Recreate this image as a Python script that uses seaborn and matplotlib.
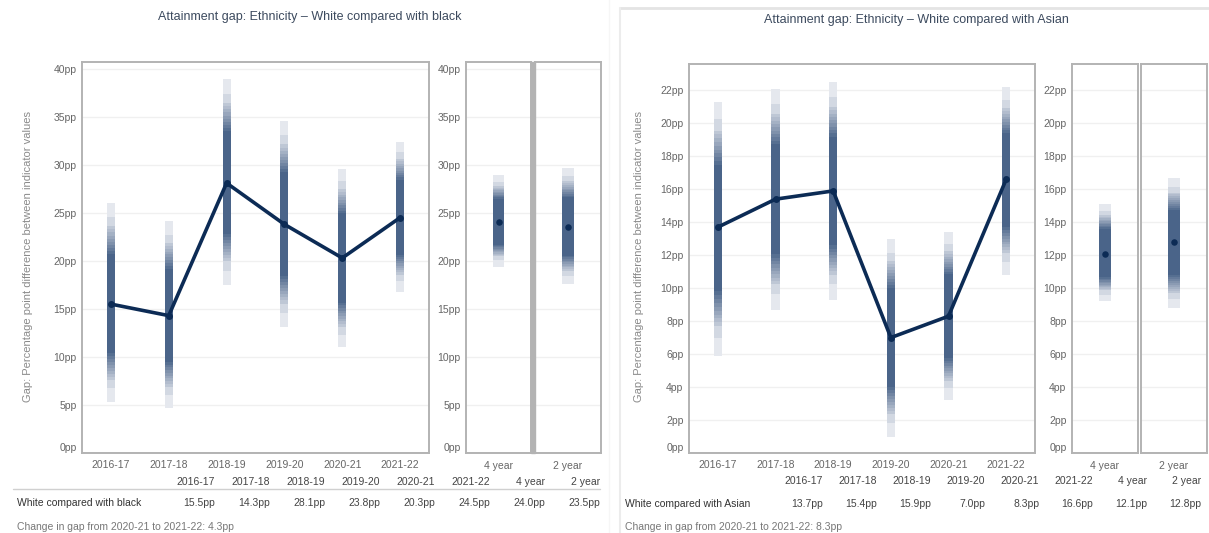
import numpy as np
import matplotlib
matplotlib.use("Agg")
import matplotlib.pyplot as plt
import matplotlib.colors as mcolors
from matplotlib.patches import Rectangle
from matplotlib.lines import Line2D
import seaborn as sns

# Data
years = ["2016-17", "2017-18", "2018-19", "2019-20", "2020-21", "2021-22"]
avg_labels = ["4 year", "2 year"]

black_gap = [15.5, 14.3, 28.1, 23.8, 20.3, 24.5]
black_lo = [5.3, 4.7, 17.5, 13.1, 11.0, 16.8]
black_hi = [26.0, 24.1, 38.9, 34.6, 29.6, 32.4]
black_avg = [24.0, 23.5]
black_avg_lo = [19.4, 17.6]
black_avg_hi = [28.9, 29.7]

asian_gap = [13.7, 15.4, 15.9, 7.0, 8.3, 16.6]
asian_lo = [5.9, 8.7, 9.3, 1.0, 3.2, 10.8]
asian_hi = [21.3, 22.1, 22.5, 13.0, 13.4, 22.2]
asian_avg = [12.1, 12.8]
asian_avg_lo = [9.2, 8.8]
asian_avg_hi = [15.1, 16.7]

W, H = 1209, 533
PALE = "#e5e8ee"
DARK = "#4a6489"
LINE = "#0c2b55"
GREY = "#b3b3b3"
TICK = "#666666"

# gradient levels: fraction of the interval, shade between pale and dark
levels = [1.0, 0.86, 0.77, 0.74, 0.71, 0.68, 0.65, 0.62, 0.59, 0.56, 0.53, 0.50]
shades = [0.0, 0.12, 0.25, 0.33, 0.42, 0.5, 0.58, 0.66, 0.75, 0.83, 0.92, 1.0]

sns.set_theme(style="white")
plt.rcParams["font.family"] = ["Liberation Sans", "DejaVu Sans"]

fig = plt.figure(figsize=(W / 100, H / 100), dpi=100)
fig.patch.set_facecolor("white")


def box(l, t, r, b):
    return [l / W, 1 - b / H, (r - l) / W, (b - t) / H]


def blend(t):
    a = np.array(mcolors.to_rgb(PALE))
    b = np.array(mcolors.to_rgb(DARK))
    return a + (b - a) * t


def draw_band(ax, xs, vals, lo, hi, width):
    for f, t in zip(levels, shades):
        bottoms = [v - f * (v - l) for v, l in zip(vals, lo)]
        tops = [v + f * (h - v) for v, h in zip(vals, hi)]
        ax.bar(xs, np.subtract(tops, bottoms), bottom=bottoms, width=width,
               color=blend(t), linewidth=0, zorder=2)


def style_axes(ax, ylim, yticks, show_labels=True):
    ax.set_ylim(*ylim)
    ax.set_yticks(yticks)
    if show_labels:
        ax.set_yticklabels([f"{v}pp" for v in yticks])
        lab0 = ax.get_yticklabels()[0]
        lab0.set_va("bottom")
    else:
        ax.set_yticklabels([])
    ax.tick_params(axis="y", length=3 if show_labels else 0, width=0.8,
                   color=GREY, labelsize=7.5, labelcolor=TICK, pad=1)
    ax.grid(axis="y", color="#f0f0f0", linewidth=1)
    ax.set_axisbelow(True)
    for s in ax.spines.values():
        s.set_color(GREY)
        s.set_linewidth(1.4)


def panel(cfg):
    gap, lo, hi = cfg["gap"], cfg["lo"], cfg["hi"]
    ax = fig.add_axes(box(*cfg["main"]))
    xs = np.arange(len(years))
    draw_band(ax, xs, gap, lo, hi, 0.14)
    sns.lineplot(x=xs, y=gap, ax=ax, color=LINE, linewidth=2.6, marker="o",
                 markersize=5, markeredgewidth=0, zorder=4)
    ax.set_xlim(-0.5, len(years) - 0.5)
    style_axes(ax, cfg["ylim"], cfg["yticks"])
    ax.set_xticks(xs)
    ax.set_xticklabels(years)
    ax.set_xticks(xs[:-1] + 0.5, minor=True)
    ax.tick_params(axis="x", which="major", length=0, labelsize=7.5,
                   labelcolor=TICK, pad=5)
    ax.tick_params(axis="x", which="minor", length=4, color=GREY, width=0.8)
    ax.set_ylabel("")

    for i, rect in enumerate(cfg["avg"]):
        a = fig.add_axes(box(*rect))
        draw_band(a, [0], [cfg["avg_v"][i]], [cfg["avg_lo"][i]],
                  [cfg["avg_hi"][i]], 0.17)
        sns.scatterplot(x=[0], y=[cfg["avg_v"][i]], ax=a, color=LINE, s=22,
                        linewidth=0, zorder=4)
        a.set_xlim(-0.5, 0.5)
        style_axes(a, cfg["ylim"], cfg["yticks"], show_labels=(i == 0))
        a.set_xticks([0])
        a.set_xticklabels([avg_labels[i]])
        a.tick_params(axis="x", length=0, labelsize=7.5, labelcolor=TICK, pad=6)

    tx, ty = cfg["title_xy"]
    fig.text(tx / W, 1 - ty / H, cfg["title"], ha="center", va="center",
             fontsize=9, color="#3c4a5e")
    fig.text(cfg["ylabel_x"] / W, 1 - 257 / H,
             "Gap: Percentage point difference between indicator values",
             rotation=90, ha="center", va="center", fontsize=8, color="#8a8a8a")

    # summary table
    cols = years + avg_labels
    vals = list(gap) + list(cfg["avg_v"])
    for i, (c, v) in enumerate(zip(cols, vals)):
        xr = (cfg["tab_x0"] + cfg["tab_dx"] * i) / W
        fig.text(xr, 1 - cfg["head_y"] / H, c, ha="right", va="center",
                 fontsize=7.5, color="#444444")
        fig.text(xr, 1 - cfg["row_y"] / H, f"{v:.1f}pp", ha="right",
                 va="center", fontsize=7.5, color="#444444")
    fig.text(cfg["lab_x"] / W, 1 - cfg["row_y"] / H, cfg["row_label"],
             ha="left", va="center", fontsize=7.5, color="#333333")
    fig.text(cfg["lab_x"] / W, 1 - 527 / H, cfg["footnote"], ha="left",
             va="center", fontsize=7.5, color="#777777")


left = dict(
    title="Attainment gap: Ethnicity \u2013 White compared with black",
    title_xy=(310, 17), main=(82, 62, 429, 453),
    avg=[(466, 62, 531, 453), (535, 62, 601, 453)],
    ylim=(0, 40.7), yticks=list(range(0, 41, 5)), ylabel_x=28,
    gap=black_gap, lo=black_lo, hi=black_hi,
    avg_v=black_avg, avg_lo=black_avg_lo, avg_hi=black_avg_hi,
    tab_x0=215, tab_dx=55, head_y=482, row_y=503, lab_x=17,
    row_label="White compared with black",
    footnote="Change in gap from 2020-21 to 2021-22: 4.3pp",
)
right = dict(
    title="Attainment gap: Ethnicity \u2013 White compared with Asian",
    title_xy=(916, 20), main=(689, 64, 1035, 453),
    avg=[(1072, 64, 1138, 453), (1141, 64, 1207, 453)],
    ylim=(0, 23.6), yticks=list(range(0, 23, 2)), ylabel_x=639,
    gap=asian_gap, lo=asian_lo, hi=asian_hi,
    avg_v=asian_avg, avg_lo=asian_avg_lo, avg_hi=asian_avg_hi,
    tab_x0=823, tab_dx=54, head_y=481, row_y=504, lab_x=625,
    row_label="White compared with Asian",
    footnote="Change in gap from 2020-21 to 2021-22: 8.3pp",
)

panel(left)
panel(right)

# thick divider between the two small boxes on the left chart
fig.patches.append(Rectangle((531 / W, 1 - 453 / H), 4 / W, 391 / H,
                             transform=fig.transFigure, color=GREY, zorder=5))
# header rule of the left table
fig.lines.append(Line2D([13 / W, 600 / W], [1 - 489 / H] * 2,
                        transform=fig.transFigure, color="#d0d0d0", lw=1))
# frame of the right-hand dashboard panel
fig.lines.append(Line2D([620 / W, 1.0], [1 - 8 / H] * 2,
                        transform=fig.transFigure, color="#e4e4e4", lw=2))
fig.lines.append(Line2D([620 / W] * 2, [0, 1 - 8 / H],
                        transform=fig.transFigure, color="#ececec", lw=1.5))
fig.lines.append(Line2D([609 / W] * 2, [0, 1],
                        transform=fig.transFigure, color="#f6f6f6", lw=1))

fig.savefig("out.png", dpi=100, facecolor="white")
